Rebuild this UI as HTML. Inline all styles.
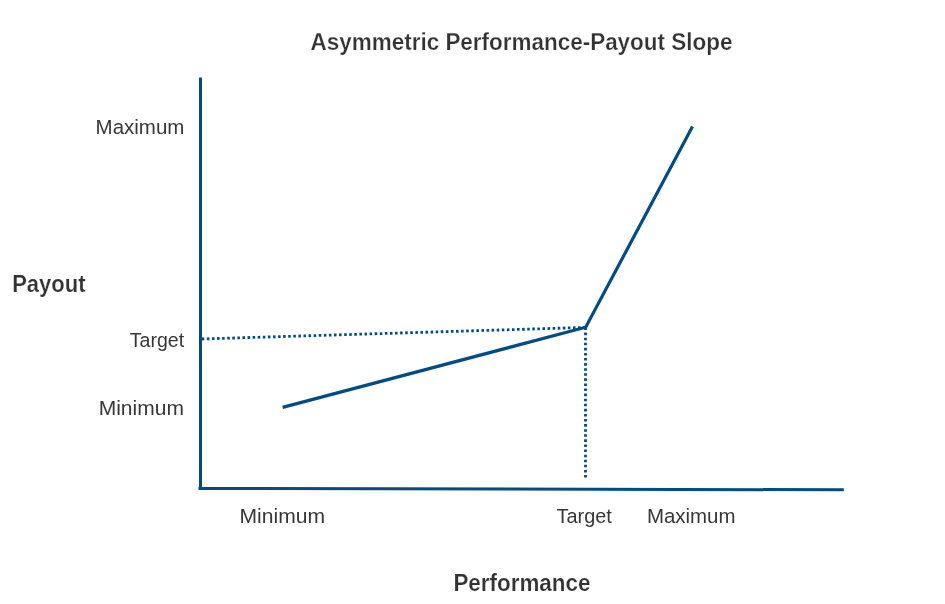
<!DOCTYPE html>
<html lang="en">
<head>
<meta charset="utf-8">
<title>Asymmetric Performance-Payout Slope</title>
<style>
html,body{margin:0;padding:0;background:#fff;}
body{width:945px;height:604px;overflow:hidden;position:relative;font-family:"Liberation Sans",sans-serif;}
svg{position:absolute;left:0;top:0;display:block;}
text{font-family:"Liberation Sans",sans-serif;}
.lbl{font-size:19.3px;fill:#373737;}
.hd{font-size:23.2px;fill:#333;font-weight:bold;stroke:#fff;stroke-width:0.2px;}
.ttl{font-size:23.2px;fill:#333;font-weight:bold;stroke:#fff;stroke-width:0.25px;}
</style>
</head>
<body>
<svg width="945" height="604" viewBox="0 0 945 604">
  <rect width="945" height="604" fill="#ffffff"/>
  <!-- axes -->
  <g stroke="#004b82" stroke-width="3" fill="none">
    <line x1="200.5" y1="77.4" x2="200.5" y2="490"/>
    <line x1="198.5" y1="488.4" x2="843.8" y2="489.8" stroke-linecap="butt"/>
    <polyline points="282.6,407.4 585.7,327.2 692.5,126.6" stroke-width="3.2" stroke-linejoin="miter"/>
  </g>
  <!-- dotted guides -->
  <g stroke="#004b82" stroke-width="2.8" fill="none">
    <line x1="585.5" y1="327.5" x2="585.5" y2="477.6" stroke-dasharray="2.56 2.525"/>
    <line x1="585.7" y1="327.4" x2="201" y2="339" stroke-dasharray="2.56 2.527"/>
  </g>
  <!-- title -->
  <text class="ttl" x="310.6" y="49.5" textLength="421.8" lengthAdjust="spacingAndGlyphs">Asymmetric Performance-Payout Slope</text>
  <!-- y labels -->
  <text class="lbl" x="95.6" y="133.9" textLength="88.8" lengthAdjust="spacingAndGlyphs">Maximum</text>
  <text class="hd" x="12.2" y="291.8" textLength="73.4" lengthAdjust="spacingAndGlyphs">Payout</text>
  <text class="lbl" x="129.8" y="346.7" textLength="54.4" lengthAdjust="spacingAndGlyphs">Target</text>
  <text class="lbl" x="98.7" y="414.7" textLength="85.2" lengthAdjust="spacingAndGlyphs">Minimum</text>
  <!-- x labels -->
  <text class="lbl" x="239.5" y="522.6" textLength="85.5" lengthAdjust="spacingAndGlyphs">Minimum</text>
  <text class="lbl" x="556.6" y="522.6" textLength="55.3" lengthAdjust="spacingAndGlyphs">Target</text>
  <text class="lbl" x="646.9" y="522.6" textLength="88.6" lengthAdjust="spacingAndGlyphs">Maximum</text>
  <text class="hd" x="453.4" y="590.7" textLength="137" lengthAdjust="spacingAndGlyphs">Performance</text>
</svg>
</body>
</html>
